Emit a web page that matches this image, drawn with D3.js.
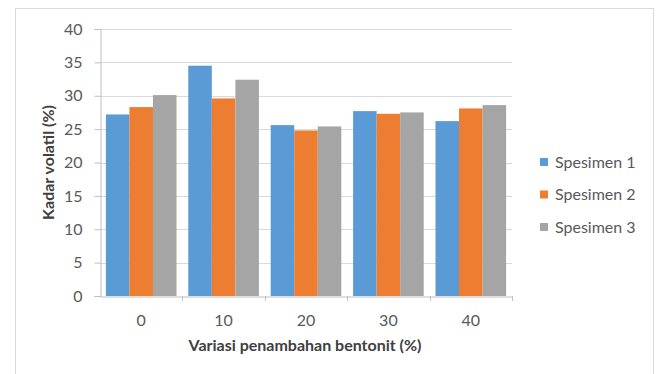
<!DOCTYPE html>
<html>
<head>
<meta charset="utf-8">
<script src="https://cdn.jsdelivr.net/npm/d3@7"></script>
<style>
  html, body { margin: 0; padding: 0; background: #fff; }
  svg { display: block; font-family: Lato, "Open Sans", sans-serif; }
</style>
</head>
<body>
<svg id="chart" width="658" height="374"></svg>
<script>
const categories = ["0", "10", "20", "30", "40"];
const seriesNames = ["Spesimen 1", "Spesimen 2", "Spesimen 3"];
const spesimen1 = [27.2, 34.5, 25.6, 27.7, 26.2];
const spesimen2 = [28.3, 29.6, 24.8, 27.3, 28.1];
const spesimen3 = [30.1, 32.4, 25.4, 27.5, 28.6];
const yTicks = [0, 5, 10, 15, 20, 25, 30, 35, 40];
const colors = ["#5B9BD5", "#ED7D31", "#A5A5A5"];
const seriesValues = [spesimen1, spesimen2, spesimen3];

(function () {
const svg = d3.select("#chart");
const FS = "16px";

// chart area border
svg.append("rect")
  .attr("x", 15.5).attr("y", 8.5)
  .attr("width", 638).attr("height", 380)
  .attr("fill", "#fff").attr("stroke", "#d9d9d9").attr("stroke-width", 1);

const mLeft = 100, mRight = 512, mTop = 29, mBottom = 296;

const x = d3.scaleBand().domain(categories).range([mLeft, mRight]).paddingInner(0).paddingOuter(0);
const xInner = d3.scaleBand().domain(seriesNames)
  .range([0, x.bandwidth()]).paddingInner(0).paddingOuter(0.25);
const y = d3.scaleLinear().domain([0, 40]).range([mBottom, mTop]);

// gridlines
svg.append("g").selectAll("line").data(yTicks.filter(d => d > 0)).join("line")
  .attr("x1", mLeft).attr("x2", mRight)
  .attr("y1", d => Math.round(y(d)) + 0.5).attr("y2", d => Math.round(y(d)) + 0.5)
  .attr("stroke", "#d9d9d9").attr("stroke-width", 1);

// bars
const groups = svg.append("g").selectAll("g").data(categories).join("g")
  .attr("transform", d => `translate(${x(d)},0)`);
groups.selectAll("rect").data((c, i) => seriesNames.map((s, j) => ({ s, v: seriesValues[j][i], j })))
  .join("rect")
  .attr("x", d => xInner(d.s))
  .attr("width", xInner.bandwidth())
  .attr("y", d => y(d.v))
  .attr("height", d => y(0) - y(d.v))
  .attr("fill", d => colors[d.j]);

// y axis
const yAxis = d3.axisLeft(y).tickValues(yTicks).tickSize(6).tickPadding(12);
const gy = svg.append("g").attr("transform", `translate(${mLeft + 0.5},0)`).call(yAxis);
gy.select(".domain").attr("stroke", "#bfbfbf");
gy.selectAll(".tick line").attr("stroke", "#bfbfbf");
gy.selectAll(".tick text").attr("fill", "#595959").style("font-size", FS).style("font-family", "Lato, 'Open Sans', sans-serif");

// x axis
const xAxis = d3.axisBottom(x).tickSize(0).tickPadding(18);
const gx = svg.append("g").attr("transform", `translate(0,${mBottom + 0.5})`).call(xAxis);
gx.select(".domain").attr("stroke", "#bfbfbf");
gx.selectAll(".tick text").attr("fill", "#595959").style("font-size", FS).style("font-family", "Lato, 'Open Sans', sans-serif");
// category boundary ticks
svg.append("g").selectAll("line").data(categories.slice(1).concat(["end"])).join("line")
  .attr("x1", (d, i) => Math.round(mLeft + x.bandwidth() * (i + 1)) + 0.5)
  .attr("x2", (d, i) => Math.round(mLeft + x.bandwidth() * (i + 1)) + 0.5)
  .attr("y1", mBottom).attr("y2", mBottom + 5)
  .attr("stroke", "#bfbfbf");

// axis titles
svg.append("text")
  .attr("x", 305).attr("y", 351)
  .attr("text-anchor", "middle")
  .attr("fill", "#404040")
  .style("font-size", FS).style("font-weight", "bold")
  .text("Variasi penambahan bentonit (%)");

svg.append("text")
  .attr("transform", `translate(54,${(mTop + mBottom) / 2}) rotate(-90)`)
  .attr("text-anchor", "middle")
  .attr("fill", "#404040")
  .style("font-size", FS).style("font-weight", "bold")
  .text("Kadar volatil (%)");

// legend
const legend = svg.append("g").selectAll("g").data(seriesNames).join("g")
  .attr("transform", (d, i) => `translate(540,${162 + i * 32.5})`);
legend.append("rect").attr("x", 0).attr("y", -4).attr("width", 8).attr("height", 8)
  .attr("fill", (d, i) => colors[i]);
legend.append("text").attr("x", 15).attr("y", 0).attr("dy", "0.35em")
  .attr("fill", "#595959").style("font-size", FS)
  .text(d => d);
})();
</script>
</body>
</html>
